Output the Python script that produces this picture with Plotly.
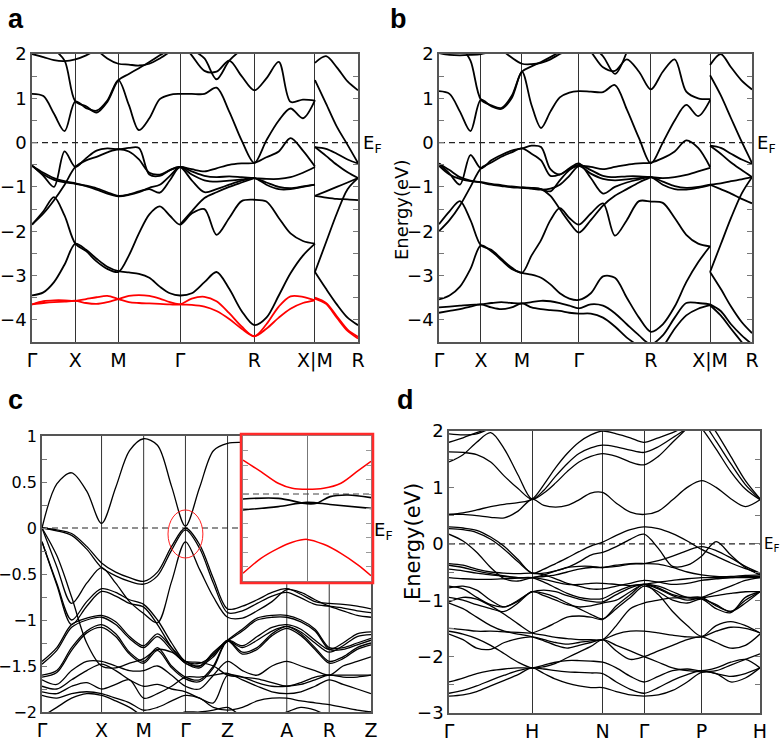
import plotly.graph_objects as go

N = None
# ---------------- Panel a : k-grid (fraction of path) ----------------
K_A = [0, .035, .0675, .100, .133, .166, .198, .231, .265, .297, .328, .360, .392, .423, .454,
       .490, .529, .566, .605, .643, .682, .719, .757, .793, .831, .868]
K_A_TAIL = [.868, .902, .935, .968, 1.0]
A_SYM = [0, .133, .265, .454, .682, .868, 1.0]
A_SYM_LABELS = ['Γ', 'X', 'M', 'Γ', 'R', 'X|M', 'R']

A1 = [-3.45,-3.38,-3.15,-2.75,-2.28, -2.42,-2.62,-2.80,-2.90, -2.93,-2.96,-3.05,-3.25,-3.40,-3.45, -3.40,-3.15,-2.92,-3.30,-3.80,-4.12, -3.95,-3.45,-2.95,-2.55,-2.28]
A2 = [-1.85,-1.55,-1.23,-1.65,-2.28, -2.45,-2.68,-2.85,-2.92, -2.55,-2.05,-1.62,-1.44,-1.65,-1.85, -1.60,-1.50,-2.08,-1.70,-1.32,-1.29, -1.33,-1.70,-2.05,-2.22,-2.28]
A3 = [-1.85,-1.60,-1.30,-0.95,-0.55, -0.40,-0.32,-0.22,-0.15, -0.20,-0.38,-0.68,-0.72,-0.62,-0.55, -0.60,-0.65,-0.58,-0.50,-0.47,-0.46, -0.33,-0.20,0.10,-0.18,-0.54]
A4 = [-0.52,-0.75,-1.00,-0.20,-0.55, -0.35,-0.18,-0.13,-0.15, -0.12,-0.12,-0.72,-0.75,-0.62,-0.55, -0.85,-1.12,-1.05,-0.95,-0.86,-0.80, -0.95,-1.05,-1.05,-1.00,-0.95]
A5 = [-0.52,-0.68,-0.80,-0.87,-0.92, -0.97,-1.03,-1.12,-1.20, -1.17,-1.10,-1.05,-1.13,-0.85,-0.55, -0.65,-0.75,-0.78,-0.76,-0.78,-0.80, -0.82,-0.82,-0.78,-0.68,-0.55]
A6 = [-0.52,-0.72,-0.84,-0.90,-0.93, -0.98,-1.06,-1.15,-1.21, -1.18,-1.12,-1.02,-0.95,-0.75,-0.55, -0.72,-0.85,-0.88,-0.86,-0.83,-0.80, -0.90,-1.00,-1.03,-0.99,-0.95]
A7 = [1.10,1.05,0.65,0.26,0.93, 0.78,0.72,0.95,1.41, 0.85,0.28,0.55,0.98,1.08,1.10, 1.10,1.10,1.24,0.70,0.05,-0.46, 0.05,0.50,0.77,0.55,0.96]
A8 = [N,N,2.10,1.85,0.93, 0.82,0.68,0.92,1.41, 1.55,1.68,1.82,1.97,2.10,N] + [N]*6 + [N]*5
A9 = [N]*5 + [N,2.10,1.90,1.78, 1.76,1.74,1.78,1.90,2.05,N] + [N]*6 + [N]*5
A10 = [2.00,1.93,1.86,1.84,1.88, 1.97,2.10,N,N] + [N]*6 + [N]*6 + [N]*5
A11 = [N]*5 + [N]*4 + [N,N,N,N,N,2.30, 1.97,1.62,1.60,1.85,1.50,1.18, 1.45,1.82,0.92,0.97,0.95]
A12 = [N]*15 + [2.10,1.90,1.43,1.85,2.10,N] + [N]*5
A13 = [N]*14 + [-1.85, -1.55,-1.25,-1.12,-1.00,-0.90,-0.80] + [N]*5
A_RED1 = [-3.65,-3.58,-3.56,-3.56,-3.57, -3.53,-3.49,-3.46,-3.53, -3.60,-3.62,-3.63,-3.64,-3.65,-3.65, -3.52,-3.48,-3.58,-3.85,-4.15,-4.37, -4.10,-3.70,-3.47,-3.48,-3.56]
A_RED2 = [-3.65,-3.62,-3.60,-3.59,-3.57, -3.62,-3.64,-3.60,-3.53, -3.46,-3.44,-3.46,-3.52,-3.60,-3.65, -3.66,-3.70,-3.80,-3.98,-4.20,-4.37, -4.20,-3.95,-3.75,-3.62,-3.56]
AT1 = [1.41, 0.88, 0.36, -0.05, -0.46]
AT2 = [-0.10, -0.14, -0.25, -0.38, -0.47]
AT3 = [-0.10, -0.30, -0.50, -0.67, -0.80]
AT4 = [-1.20, -1.10, -1.00, -0.90, -0.80]
AT5 = [-1.20, -1.24, -1.27, -1.28, -1.30]
AT6 = [-2.92, -2.25, -1.60, -1.05, -0.80]
AT7 = [-2.92, -3.30, -3.65, -3.95, -4.12]
AT8 = [1.80, 1.95, 1.70, 1.38, 1.18]
AT_RED1 = [-3.50, -3.62, -3.92, -4.22, -4.38]
AT_RED2 = [-3.52, -3.64, -3.95, -4.25, -4.42]

# ---------------- Panel b ----------------
K_B = [0, .0335, .067, .1005, .134, .167, .199, .232, .265, .2955, .326, .356, .386, .4165, .447,
       .485, .524, .562, .600, .639, .677, .715, .753, .790, .828, .866]
K_B_TAIL = [.866, .900, .933, .967, 1.0]
B_SYM = [0, .134, .265, .447, .677, .866, 1.0]
B_SYM_LABELS = ['Γ', 'X', 'M', 'Γ', 'R', 'X|M', 'R']

B1 = [-3.54,-3.45,-3.25,-2.85,-2.32, -2.45,-2.65,-2.85,-2.94, -2.98,-3.05,-3.20,-3.40,-3.52,-3.55, -3.40,-3.02,-3.05,-3.50,-3.95,-4.27, -4.10,-3.70,-3.15,-2.70,-2.34]
B2 = [-1.84,-1.55,-1.32,-1.75,-2.32, -2.42,-2.62,-2.82,-2.94, -2.55,-2.20,-1.75,-1.48,-1.70,-1.85, -1.60,-1.37,-2.10,-1.75,-1.32,-1.33, -1.36,-1.70,-2.08,-2.28,-2.34]
B3 = [-2.00,-1.75,-1.42,-1.00,-0.58, -0.45,-0.32,-0.22,-0.13, -0.25,-0.40,-0.75,-0.72,-0.60,-0.52, -0.55,-0.60,-0.55,-0.50,-0.47,-0.45, -0.35,-0.20,0.05,-0.12,-0.55]
B4 = [-0.47,-0.70,-0.95,-0.28,-0.58, -0.40,-0.28,-0.18,-0.13, -0.07,-0.10,-0.60,-0.72,-0.58,-0.47, -0.80,-1.15,-1.00,-0.90,-0.83,-0.78, -0.95,-1.05,-1.06,-1.02,-0.96]
B5 = [-0.52,-0.72,-0.82,-0.87,-0.89, -0.93,-0.96,-0.99,-1.01, -1.03,-1.05,-1.10,-0.85,-0.62,-0.50, -0.62,-0.75,-0.78,-0.76,-0.76,-0.78, -0.80,-0.78,-0.73,-0.65,-0.57]
B6 = [-0.47,-0.62,-0.78,-0.86,-0.90, -0.95,-0.98,-1.01,-1.02, -1.04,-1.06,-1.04,-0.95,-0.75,-0.53, -0.70,-0.82,-0.85,-0.83,-0.80,-0.78, -0.88,-0.98,-1.02,-1.00,-0.95]
B7 = [1.16,1.10,0.70,0.26,0.97, 0.82,0.76,1.00,1.60, 0.85,0.33,0.70,1.02,1.13,1.16, 1.15,1.14,1.30,0.75,0.10,-0.47, 0.00,0.50,0.85,0.60,0.96]
B8 = [N,N,2.20,1.85,0.97, 0.84,0.78,1.05,1.60, 1.72,1.82,1.93,2.05,N,N] + [N]*6 + [N]*5
B9 = [N]*5 + [N,2.10,1.92,1.78, 1.77,1.80,1.88,2.00,2.10,N] + [N]*6 + [N]*5
B10 = [2.02,1.98,1.97,1.98,2.00, 2.05,N,N,N] + [N]*6 + [N]*6 + [N]*5
B11 = [N]*5 + [N]*4 + [N,N,N,N,N,2.30, 2.05,1.70,1.62,1.88,1.60,1.20, 1.60,1.88,1.15,1.00,0.98]
B12 = [N]*15 + [2.20,1.95,1.55,2.05,N,N] + [N]*5
B13 = [-3.72,-3.70,-3.68,-3.66,-3.65, -3.62,-3.60,-3.62,-3.63, -3.60,-3.57,-3.58,-3.62,-3.68,-3.74, -3.65,-3.68,-3.85,-4.10,-4.35,-4.55, -4.35,-3.95,-3.62,-3.62,-3.65]
B14 = [-3.84,-3.80,-3.76,-3.70,-3.65, -3.72,-3.76,-3.72,-3.63, -3.72,-3.76,-3.78,-3.80,-3.84,-3.86, -3.86,-3.95,-4.15,-4.40,-4.60,-4.80, -4.60,-4.20,-3.90,-3.75,-3.67]
B15 = [N]*8 + [-1.01, -1.02,-1.05,-1.20,-1.50,-1.80,-2.03, -1.75,-1.42,-1.20,-1.05,-0.90,-0.78] + [N]*5
BT1 = [1.52, 1.07, 0.55, 0.02, -0.46]
BT2 = [-0.07, -0.12, -0.25, -0.38, -0.48]
BT3 = [-0.07, -0.25, -0.45, -0.62, -0.78]
BT4 = [-0.95, -0.92, -0.87, -0.83, -0.78]
BT5 = [-0.95, -1.05, -1.15, -1.27, -1.37]
BT6 = [-2.92, -2.30, -1.70, -1.15, -0.78]
BT7 = [-2.92, -3.30, -3.70, -4.05, -4.30]
BT8 = [-3.65, -3.80, -4.10, -4.35, -4.55]
BT9 = [-3.67, -3.90, -4.20, -4.50, -4.80]
BT10 = [1.75, 2.00, 1.70, 1.40, 1.20]

# ---------------- Panel c ----------------
K_C = [0, .045, .09, .136, .181, .224, .266, .309, .351, .394, .436, .479, .521, .564,
       .609, .654, .699, .744, .787, .83, .873, .915, .958, 1.0]
C_SYM = [0, .181, .309, .436, .564, .744, .873, 1.0]
C_SYM_LABELS = ['Γ', 'X', 'M', 'Γ', 'Z', 'A', 'R', 'Z']

C1 = [0.0,0.48,0.60,0.40,0.05, 0.44,0.84,0.97, 0.90,0.45,0.02, 0.44,0.84,0.92, 0.93,N,N,N, N,N,N, N,N,N]
C2 = [0.0,-0.02,-0.06,-0.20,-0.38, -0.48,-0.54,-0.58, -0.48,-0.20,0.0, -0.18,-0.55,-0.88, -0.85,-0.78,-0.70,-0.66, -0.72,-0.80,-0.82, -0.83,-0.85,-0.88]
C2B = [0.0,-0.03,-0.08,-0.23,-0.43, -0.52,-0.58,-0.61, -0.52,-0.24,-0.02, -0.22,-0.60,-0.92, -0.90,-0.82,-0.74,-0.70, -0.76,-0.83,-0.85, -0.87,-0.90,-0.92]
C3 = [0.0,-0.42,-0.82,-0.60,-0.43, -0.60,-0.80,-0.93, -1.03,-0.58,-0.15, -0.45,-0.75,-0.97, -0.98,-0.90,-0.80,-0.67, -0.70,-0.78,-0.85, -0.90,-0.95,-0.97]
C4 = [-0.15,-0.60,-1.00,-0.80,-0.66, -0.70,-0.78,-0.83, -1.00,-1.25,-1.45, -1.47,-1.38,-1.22, -1.28,-1.18,-1.08,-1.05, -1.10,-1.22,-1.32, -1.25,-1.15,-1.13]
C4B = [-0.15,-0.62,-1.05,-0.85,-0.69, -0.74,-0.82,-0.86, -1.05,-1.30,-1.47, -1.50,-1.40,-1.23, -1.30,-1.22,-1.12,-1.07, -1.13,-1.25,-1.35, -1.28,-1.18,-1.16]
C5 = [0.0,-0.30,-0.75,-1.25,-1.50, -1.52,-1.47,-1.42, -1.32,-1.35,-1.45, -1.46,-1.50,-1.60, -1.62,-1.64,-1.68,-1.72, -1.68,-1.62,-1.60, -1.60,-1.60,-1.60]
C6 = [-1.45,-1.30,-1.05,-0.98,-0.95, -1.02,-1.18,-1.28, -1.15,-1.30,-1.45, -1.50,-1.35,-1.22, -1.10,-0.98,-0.95,-0.95, -1.00,-1.10,-1.30, -1.30,-1.25,-1.20]
C6B = [-1.48,-1.33,-1.08,-1.00,-0.97, -1.05,-1.20,-1.30, -1.18,-1.33,-1.47, -1.52,-1.37,-1.23, -1.12,-1.00,-0.97,-0.97, -1.02,-1.12,-1.32, -1.32,-1.27,-1.22]
C7 = [-1.60,-1.55,-1.30,-1.12,-1.05, -1.15,-1.35,-1.45, -1.30,-1.50,-1.62, -1.65,-1.50,-1.22, -1.35,-1.30,-1.15,-1.07, -1.15,-1.30,-1.45, -1.40,-1.30,-1.25]
C7B = [-1.62,-1.57,-1.33,-1.14,-1.08, -1.18,-1.37,-1.47, -1.33,-1.52,-1.64, -1.67,-1.52,-1.23, -1.37,-1.32,-1.17,-1.09, -1.17,-1.32,-1.47, -1.42,-1.32,-1.27]
C8 = [-1.65,-1.70,-1.55,-1.45,-1.45, -1.50,-1.55,-1.55, -1.50,-1.60,-1.72, -1.75,-1.60,-1.45, -1.55,-1.60,-1.50,-1.45, -1.50,-1.55,-1.60, -1.50,-1.45,-1.40]
C9 = [-1.72,-1.75,-1.65,-1.55,-1.48, -1.55,-1.65,-1.72, -1.70,-1.75,-1.78, -1.85,-1.90,-1.60, -1.62,-1.68,-1.72,-1.72, -1.70,-1.65,-1.60, -1.62,-1.62,-1.60]
C10 = [-1.78,-1.80,-1.72,-1.68,-1.75, -1.70,-1.65,-1.85, -1.80,-1.72,-1.62, -1.62,-1.60,-1.58, -1.65,-1.72,-1.78,-1.80, -1.78,-1.72,-1.65, -1.70,-1.75,-1.80]
C11 = [-1.82,-1.85,-1.80,-1.78,-1.80, -1.85,-1.90,-1.98, -1.95,-1.88,-1.82, -1.85,-1.95,-1.98, -1.95,-1.88,-1.85,-1.85, -1.88,-1.90,-1.92, -1.95,-1.98,-2.00]
C12 = [-2.05,-1.95,-1.85,-1.80,-1.82, -1.88,-1.95,-2.05, -2.10,-2.05,-2.00, -2.00,-1.98,-1.95, -2.05,-2.10,-2.05,-2.00, -1.95,-1.98,-2.05, -2.10,-2.05,-2.00]

# inset of panel c (zoom at Γ)
INSET_K_UP = [-1, -0.72, -0.45, -0.23, 0, 0.26, 0.53, 0.8, 1.0]
INSET_RED_UP = [0.0234, 0.0154, 0.0074, 0.0039, 0.0032, 0.0039, 0.0074, 0.0161, 0.0225]
INSET_RED_LOW = [-0.0547, -0.0444, -0.0375, -0.0333, -0.0313, -0.0347, -0.0409, -0.0490, -0.0563]
INSET_K_B1 = [-1, -0.45, 0, 0.15, 0.36, 0.64, 1]
INSET_BLACK1 = [-0.0034, -0.0030, -0.0067, -0.0064, -0.0018, -0.0007, -0.0025]
INSET_K_B2 = [-1, -0.45, 0, 0.36, 1]
INSET_BLACK2 = [-0.0110, -0.0087, -0.0058, -0.0072, -0.0099]

# ---------------- Panel d ----------------
K_D = [0, .045, .089, .134, .178, .222, .267, .305, .343, .38, .418, .456, .494, .538, .583, .627,
       .673, .719, .766, .812, .859, .906, .953, 1.0]
D_SYM = [0, .267, .494, .627, .812, 1.0]
D_SYM_LABELS = ['Γ', 'H', 'N', 'Γ', 'P', 'H']

DC1 = [0.52,0.52,0.50,0.47,0.46,0.58,0.79, 0.68,0.65,0.68,0.78,0.90,0.91, 0.72,0.56,0.52, 0.58,0.78,1.00,1.12, 1.00,0.80,0.66,0.78]
DC2 = [0.52,0.55,0.60,0.66,0.70,0.73,0.79, 1.05,1.35,1.60,1.80,1.93,2.00, 1.95,1.88,1.80, 1.88,1.97,2.10,N, N,N,N,N]
DC3 = [1.63,1.62,1.58,1.45,1.20,0.98,0.79, 0.95,1.20,1.42,1.60,1.70,1.75, 1.72,1.66,1.62, 1.72,1.88,2.05,N, N,N,N,N]
DC4 = [1.45,1.58,1.80,1.97,1.68,1.22,0.79, 0.90,1.08,1.28,1.45,1.55,1.60, 1.55,1.45,1.40, 1.55,1.80,2.05,N, N,N,N,N]
DC5 = [1.80,1.88,1.97,2.05,N,N,N] + [N]*6 + [N]*3 + [N]*4 + [N]*4
DC6 = [1.95,1.93,1.95,2.05,N,N,N] + [N]*6 + [N]*3 + [N]*4 + [N]*4
DC7 = [N]*7 + [N]*6 + [N]*3 + [N,N,2.30,2.05, 1.68,1.28,0.97,0.78]
DC8 = [N]*7 + [N]*6 + [N]*3 + [N,N,2.45,2.20, 1.82,1.42,1.05,0.79]
DC9 = [N]*7 + [N]*6 + [N]*3 + [N,N,N,2.35, 1.98,1.55,1.12,0.80]
DV1 = [0.30,0.28,0.24,0.12,-0.05,-0.28,-0.52, -0.45,-0.35,-0.25,-0.14,-0.04,0.03, 0.15,0.25,0.30, 0.27,0.18,0.05,-0.10, -0.22,-0.34,-0.44,-0.52]
DV2 = [0.27,0.25,0.20,0.08,-0.10,-0.32,-0.52, -0.52,-0.48,-0.42,-0.32,-0.20,-0.15, -0.05,0.08,0.17, -0.08,-0.40,-0.38,-0.22, 0.04,-0.20,-0.42,-0.55]
DV3 = [0.17,0.05,-0.15,-0.42,-0.62,-0.66,-0.60, -0.58,-0.55,-0.50,-0.45,-0.42,-0.42, -0.38,-0.35,-0.35, -0.36,-0.42,-0.50,-0.55, -0.58,-0.58,-0.56,-0.55]
DV4 = [-0.35,-0.38,-0.45,-0.50,-0.52,-0.53,-0.52, -0.55,-0.62,-0.70,-0.75,-0.80,-0.80, -0.75,-0.70,-0.65, -0.68,-0.72,-0.70,-0.65, -0.62,-0.60,-0.58,-0.58]
DV5 = [-0.38,-0.42,-0.48,-0.53,-0.57,-0.60,-0.60, -0.68,-0.78,-0.88,-0.95,-0.98,-0.97, -0.85,-0.75,-0.72, -0.80,-0.92,-1.00,-0.95, -0.85,-0.75,-0.65,-0.60]
DV6 = [-0.45,-0.48,-0.52,-0.55,-0.58,-0.60,-0.60, -0.55,-0.48,-0.42,-0.40,-0.40,-0.42, -0.40,-0.36,-0.35, -0.30,-0.22,-0.12,-0.05, -0.12,-0.25,-0.40,-0.52]
DV7 = [-0.60,-0.62,-0.63,-0.63,-0.62,-0.61,-0.60, -0.63,-0.68,-0.72,-0.72,-0.70,-0.70, -0.72,-0.74,-0.72, -0.68,-0.65,-0.62,-0.60, -0.60,-0.60,-0.60,-0.60]
DV8 = [-0.75,-0.80,-0.95,-1.08,-1.12,-1.02,-0.85, -0.88,-0.95,-1.05,-1.15,-1.25,-1.33, -1.15,-0.95,-0.75, -0.85,-1.00,-1.05,-0.98, -1.15,-1.22,-0.95,-0.85]
DV9 = [-0.78,-0.75,-0.82,-1.00,-1.12,-1.00,-0.85, -0.82,-0.85,-0.92,-0.98,-1.02,-1.03, -0.90,-0.78,-0.72, -0.75,-0.85,-0.95,-0.97, -1.08,-1.20,-1.00,-0.85]
DV10 = [-1.03,-0.95,-0.98,-1.10,-1.25,-1.42,-1.58, -1.62,-1.66,-1.68,-1.70,-1.70,-1.70, -1.45,-1.15,-1.05, -1.00,-0.96,-0.96,-0.96, -0.92,-0.88,-0.85,-0.85]
DV11 = [-1.50,-1.52,-1.55,-1.55,-1.56,-1.57,-1.58, -1.50,-1.40,-1.30,-1.28,-1.30,-1.34, -1.10,-0.90,-0.72, -0.90,-1.20,-1.45,-1.64, -1.45,-1.38,-1.45,-1.58]
DV12 = [-1.60,-1.70,-1.85,-1.87,-1.75,-1.68,-1.65, -1.70,-1.75,-1.78,-1.75,-1.72,-1.70, -1.60,-1.55,-1.55, -1.58,-1.62,-1.65,-1.65, -1.55,-1.48,-1.50,-1.58]
DV13 = [-1.05,-1.15,-1.30,-1.45,-1.55,-1.60,-1.65, -1.72,-1.80,-1.85,-1.80,-1.75,-1.70, -1.90,-2.05,-2.00, -1.90,-1.80,-1.70,-1.65, -1.75,-1.85,-1.80,-1.60]
DV14 = [-2.45,-2.38,-2.30,-2.25,-2.22,-2.20,-2.20, -2.15,-2.10,-2.07,-2.07,-2.08,-2.10, -2.20,-2.35,-2.45, -2.35,-2.25,-2.22,-2.25, -2.20,-2.10,-2.05,-2.20]
DV15 = [-2.65,-2.60,-2.52,-2.42,-2.33,-2.25,-2.20, -2.22,-2.25,-2.27,-2.28,-2.29,-2.30, -2.45,-2.58,-2.65, -2.55,-2.42,-2.32,-2.25, -2.30,-2.35,-2.30,-2.20]
DV16 = [-2.70,-2.68,-2.62,-2.52,-2.42,-2.32,-2.20, -2.30,-2.40,-2.47,-2.52,-2.55,-2.55, -2.62,-2.68,-2.70, -2.68,-2.60,-2.45,-2.28, -2.30,-2.45,-2.38,-2.20]
DV17 = [-1.55,-1.60,-1.68,-1.80,-1.95,-2.10,-2.20, -2.18,-2.12,-2.02,-1.92,-1.82,-1.70, -1.80,-1.90,-2.00, -2.10,-2.20,-2.25,-2.27, -2.25,-2.15,-2.05,-1.95]
DV18 = [-0.95,-1.00,-1.08,-1.15,-1.20,-1.05,-0.85, -0.92,-1.00,-1.08,-1.12,-1.10,-1.05, -1.00,-0.85,-0.72, -0.78,-0.90,-0.95,-0.95, -1.10,-1.20,-1.05,-0.85]

# ---------------- figure ----------------
fig = go.Figure()
FONT = 'DejaVu Sans'


def add_lines(bands, k, xa, ya, color='black', width=1.6, dash=None):
    for vals in bands:
        fig.add_trace(go.Scatter(
            x=k, y=vals, mode='lines', xaxis=xa, yaxis=ya, hoverinfo='skip', showlegend=False,
            line=dict(color=color, width=width, shape='spline', smoothing=0.9, dash=dash)))


def add_ef(xa, ya, x_end=1.0):
    fig.add_trace(go.Scatter(x=[0, x_end], y=[0, 0], mode='lines', xaxis=xa, yaxis=ya,
                             hoverinfo='skip', showlegend=False,
                             line=dict(color='#222', width=1.2, dash='6px,4px')))


# panel a
add_ef('x', 'y')
add_lines([A1, A2, A3, A4, A5, A6, A7, A8, A9, A10, A11, A12, A13], K_A, 'x', 'y', width=1.8)
add_lines([AT1, AT2, AT3, AT4, AT5, AT6, AT7, AT8], K_A_TAIL, 'x', 'y', width=1.8)
add_lines([A_RED1, A_RED2], K_A, 'x', 'y', color='#ff0000', width=1.8)
add_lines([AT_RED1, AT_RED2], K_A_TAIL, 'x', 'y', color='#ff0000', width=1.8)

# panel b
add_ef('x2', 'y2')
add_lines([B1, B2, B3, B4, B5, B6, B7, B8, B9, B10, B11, B12, B13, B14, B15], K_B, 'x2', 'y2', width=1.8)
add_lines([BT1, BT2, BT3, BT4, BT5, BT6, BT7, BT8, BT9, BT10], K_B_TAIL, 'x2', 'y2', width=1.8)

# panel c
add_ef('x3', 'y3', 0.61)
add_lines([C1, C2, C2B, C3, C4, C4B, C5, C6, C6B, C7, C7B, C8, C9, C10, C11, C12], K_C, 'x3', 'y3', width=1.3)

# panel d
add_ef('x4', 'y4')
add_lines([DC1, DC2, DC3, DC4, DC5, DC6, DC7, DC8, DC9], K_D, 'x4', 'y4', width=1.3)
add_lines([DV1, DV2, DV3, DV4, DV5, DV6, DV7, DV8, DV9, DV10, DV11, DV12, DV13, DV14, DV15,
           DV16, DV17, DV18], K_D, 'x4', 'y4', width=1.3)

# inset
fig.add_trace(go.Scatter(x=[-1, 1], y=[0, 0], mode='lines', xaxis='x5', yaxis='y5', hoverinfo='skip',
                         showlegend=False, line=dict(color='#444', width=1.2, dash='6px,4px')))
add_lines([INSET_BLACK1], INSET_K_B1, 'x5', 'y5', width=1.6)
add_lines([INSET_BLACK2], INSET_K_B2, 'x5', 'y5', width=1.6)
add_lines([INSET_RED_UP, INSET_RED_LOW], INSET_K_UP, 'x5', 'y5', color='#ff0000', width=1.5)


def yax(domain, rng, major, minor, anchor, fs, mirror='ticks'):
    return dict(domain=domain, range=rng, anchor=anchor, tickmode='linear', tick0=0, dtick=major,
                ticks='inside', ticklen=5, tickcolor='#777', tickwidth=1, mirror=mirror,
                minor=dict(ticks='inside', dtick=minor, tick0=0, ticklen=5, tickcolor='#777',
                           showgrid=False),
                showline=True, linecolor='#555', linewidth=1.5, showgrid=False, zeroline=False,
                tickfont=dict(family=FONT, size=fs, color='black'))


def xax(domain, vals, labels, anchor, fs, grid=True):
    return dict(domain=domain, range=[0, 1], anchor=anchor, tickvals=vals, ticktext=labels,
                ticks='', showline=True, mirror=True, linecolor='#555', linewidth=1.5,
                showgrid=grid, gridcolor='#333', gridwidth=1, zeroline=False,
                tickfont=dict(family=FONT, size=fs, color='black'))


C_RIGHT_TICKS = [-1.75, -1.5, -1.25, -1, -0.75]
INSET_TICKS = [-0.05, -0.04, -0.03, -0.02, -0.01, 0, 0.01, 0.02, 0.03]

W, H = 780, 744
dom_ya = [1 - 342 / H, 1 - 54 / H]
dom_yc = [1 - 712 / H, 1 - 436 / H]
dom_yd = [1 - 713 / H, 1 - 431 / H]
dom_xc = [42 / W, 371 / W]

layout = dict(
    width=W, height=H, margin=dict(l=0, r=0, t=0, b=0), template='none',
    paper_bgcolor='white', plot_bgcolor='white', showlegend=False,
    font=dict(family=FONT, color='black'),
    xaxis=xax([32 / W, 358 / W], A_SYM, A_SYM_LABELS, 'y', 19),
    yaxis=yax(dom_ya, [-4.5, 2], 1, 0.5, 'x', 18),
    xaxis2=xax([439 / W, 752 / W], B_SYM, B_SYM_LABELS, 'y2', 19),
    yaxis2=yax(dom_ya, [-4.5, 2], 1, 0.5, 'x2', 18),
    xaxis3=xax(dom_xc, C_SYM, C_SYM_LABELS, 'y3', 19, grid=False),
    yaxis3=yax(dom_yc, [-2, 1], 0.5, 0.25, 'x3', 16, mirror=True),
    xaxis4=xax([449 / W, 760 / W], D_SYM, D_SYM_LABELS, 'y4', 19),
    yaxis4=yax(dom_yd, [-3, 2], 1, 0.5, 'x4', 18),
    xaxis5=dict(domain=[243 / W, 371 / W], range=[-1, 1], anchor='y5', tickvals=[0],
                showticklabels=False, ticks='', showgrid=True, gridcolor='#777', gridwidth=1,
                showline=True, mirror=True, linecolor='#888', linewidth=1, zeroline=False),
    yaxis5=dict(domain=[1 - 581 / H, 1 - 436 / H], range=[-0.06, 0.04], anchor='x5',
                tickvals=INSET_TICKS, showticklabels=False, ticks='inside', ticklen=5,
                tickcolor='#999', mirror='ticks', showline=True, linecolor='#888', linewidth=1,
                showgrid=False, zeroline=False),
    yaxis6=dict(overlaying='y3', side='right', anchor='x3', range=[-2, 1], tickvals=C_RIGHT_TICKS,
                showticklabels=False, ticks='inside', ticklen=5, tickcolor='#777', showline=False,
                showgrid=False, zeroline=False),
)
fig.update_layout(**layout)

# high-symmetry lines of panel c (A and R stop under the inset)
shapes = []
for xv, ytop in [(C_SYM[1], 1), (C_SYM[2], 1), (C_SYM[3], 1), (C_SYM[4], 1), (C_SYM[5], -0.61), (C_SYM[6], -0.61)]:
    shapes.append(dict(type='line', xref='x3', yref='y3', x0=xv, x1=xv, y0=-2, y1=ytop,
                       line=dict(color='#333', width=1), layer='below'))
shapes.append(dict(type='rect', xref='paper', yref='paper', x0=241 / W, x1=373 / W,
                   y0=1 - 583 / H, y1=1 - 434 / H, line=dict(color='#ff2a2a', width=2.5),
                   fillcolor='rgba(0,0,0,0)', layer='above'))
shapes.append(dict(type='circle', xref='x3', yref='y3', x0=0.383, x1=0.489, y0=-0.326, y1=0.196,
                   line=dict(color='#ff2020', width=1)))
fig.update_layout(shapes=shapes)

ann = []
for txt, x, y in [('a', 16, 19), ('b', 398, 19), ('c', 15, 400), ('d', 405, 400)]:
    ann.append(dict(text='<b>%s</b>' % txt, x=x / W, y=1 - y / H, xref='paper', yref='paper',
                    showarrow=False, xanchor='center', yanchor='middle',
                    font=dict(family='Liberation Sans', size=27, color='black')))
for yr, px, fs in [('y', 361, 18), ('y2', 755, 18), ('y3', 372, 18), ('y4', 762, 15)]:
    ann.append(dict(text='E<sub>F</sub>', x=px / W, y=-0.02 if yr != 'y3' else -0.03, xref='paper', yref=yr,
                    showarrow=False, xanchor='left', yanchor='middle',
                    font=dict(family=FONT, size=fs, color='black')))
ann.append(dict(text='Energy(eV)', x=402 / W, y=1 - 210 / H, xref='paper', yref='paper',
                showarrow=False, textangle=-90, xanchor='center', yanchor='middle',
                font=dict(family=FONT, size=18, color='black')))
ann.append(dict(text='Energy(eV)', x=413 / W, y=1 - 542 / H, xref='paper', yref='paper',
                showarrow=False, textangle=-90, xanchor='center', yanchor='middle',
                font=dict(family=FONT, size=21, color='black')))
fig.update_layout(annotations=ann)

fig.write_html('out.html')
